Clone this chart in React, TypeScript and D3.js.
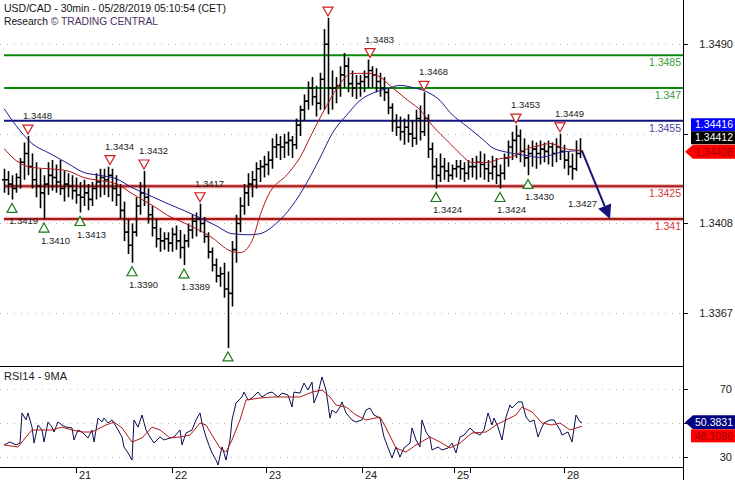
import React from 'react';
import * as d3 from 'd3';

// ---------- DATA ----------
// prices stored in pips above BASE (1.3300); one bar per 2 half-hour slots
const BASE = 1.33;
const highs = [
  133,132,130,131,138,145,148,140,136,133,
  130,136,137,135,137,132,131,130,129,127,
  128,126,127,131,133,133,134,133,130,126,
  118,110,108,120,127,132,124,116,110,106,
  104,104,106,107,105,103,108,112,113,117,
  111,104,97,92,88,90,86,100,112,120,
  126,131,132,136,137,139,141,147,149,148,
  149,150,148,156,162,167,173,175,171,177,
  197,202,178,175,180,186,184,178,176,176,
  178,183,180,179,177,175,170,163,158,157,
  156,158,155,160,162,168,158,145,138,140,
  138,136,135,137,137,136,137,138,139,141,
  140,137,139,138,135,140,146,150,153,151,
  147,144,146,145,146,145,146,145,147,149,
  144,141,140,146,147,
];
const lows = [
  122,121,119,122,124,128,130,124,120,115,
  110,121,123,122,121,118,120,119,117,113,
  116,114,116,119,120,121,120,118,116,110,
  100,94,90,102,112,116,108,102,97,95,
  96,95,95,96,92,89,97,101,102,104,
  99,92,86,81,79,74,51,70,90,104,
  112,116,120,124,127,129,130,133,138,137,
  138,139,138,142,148,155,160,162,157,160,
  160,158,160,163,166,170,168,166,165,166,
  168,170,170,168,166,164,158,150,148,146,
  144,145,143,144,146,148,138,128,124,127,
  128,127,128,129,128,127,128,129,128,129,
  128,127,128,126,124,128,134,137,138,136,
  134,130,134,133,135,136,135,134,136,137,
  133,130,128,132,138,
];
const closes = [
  128,126,124,129,136,140,134,128,125,122,
  126,130,129,127,124,126,125,123,121,120,
  122,119,124,127,129,128,130,124,121,114,
  104,98,104,116,122,120,112,106,101,100,
  101,99,103,100,97,100,105,109,110,108,
  102,95,89,84,85,78,76,96,108,116,
  122,126,128,133,134,135,137,143,144,143,
  145,146,144,153,160,164,170,166,163,174,
  190,170,170,171,176,180,172,170,172,173,
  175,178,176,173,170,168,161,155,152,150,
  152,149,147,156,150,156,142,134,130,134,
  132,130,133,134,133,131,134,134,136,135,
  133,131,134,130,131,138,143,146,148,141,
  138,140,142,140,142,141,143,140,143,141,
  137,134,133,140,141,
];

// moving averages: [slot, pips]
const maSlow: [number, number][] = [
  [0,160.6],[8,150.5],[14,144.6],[23,140],[32,135.4],[40,131.3],[48,130],[56,128.5],[64,124.4],
  [73,120.7],[82,117],[90,113.9],[98,110.6],[106,107],[114,103.3],[123,102.8],[128,103.3],
  [136,107.9],[144,116],[152,127.6],[158,138],[164,149],[172,158.3],[178,164.3],[184,167.5],
  [192,169.8],[198,171.2],[204,170.3],[212,168],[218,164.3],[223,158.8],[232,152],[240,146],
  [244,142.8],[252,140.5],[262,139],[268,138.2],[278,140.5],[289,141.4],
];
const maFast: [number, number][] = [
  [0,142.3],[6,136.8],[14,133.6],[23,133],[32,132],[40,129],[48,127.6],[56,126.2],[64,121.7],
  [70,118.4],[76,115.2],[82,111.6],[90,108.3],[98,104.7],[104,101.5],[113,95.5],[118,94.6],
  [124,100],[128,111.6],[132,120.7],[142,130.8],[148,138.2],[154,149.2],[162,163],[168,172],
  [174,176.7],[182,176.7],[188,175],[194,170.3],[202,164.3],[208,160],[214,153],[223,144.6],
  [228,140],[234,135.9],[242,135.9],[248,137.7],[253,138.2],[262,142.3],[268,143.7],[273,144.6],
  [280,142.3],[289,141.4],
];

// RSI14 and its 9MA: [slot, value]
const rsi: [number, number][] = [
  [0,37.1],[3,38.8],[6,37.1],[8,38.2],[9,55.9],[11,51.8],[12,55.9],[14,47.6],[15,38.2],[17,48.8],
  [19,45.9],[20,38.8],[22,50.6],[24,47.6],[25,44.7],[27,50.6],[29,48.8],[31,47.6],[34,47.1],[35,40],
  [37,45.9],[39,44.7],[42,41.2],[44,45.9],[45,38.8],[47,52.9],[49,50.6],[50,52.9],[52,50],[54,51.8],
  [55,50],[57,45.9],[59,41.8],[60,35.9],[62,32.4],[64,28.2],[65,51.8],[67,47.6],[69,54.7],[71,45.9],
  [73,41.8],[75,38.2],[78,41.8],[80,40],[83,41.2],[85,41.8],[88,45.9],[89,37.1],[91,44.1],[94,45.9],
  [96,51.8],[98,55.9],[99,50],[101,41.8],[103,35.3],[104,32.4],[106,28.2],[107,25.3],[109,35.9],
  [110,32.4],[111,28.2],[113,40],[114,51.8],[116,61.8],[119,65.3],[120,68.2],[122,63.5],[124,64.7],
  [127,68.2],[129,65.3],[132,67.6],[134,68.2],[137,65.3],[139,67.6],[142,66.5],[144,59.4],[145,68.2],
  [148,67.6],[150,73.5],[152,69.4],[154,74.1],[155,61.8],[157,67.6],[159,77.1],[161,69.4],[163,52.9],
  [164,57.6],[166,55.9],[168,59.4],[169,62.4],[171,55.9],[174,51.8],[176,50.6],[179,51.8],[181,57.6],
  [183,58.8],[185,54.7],[188,52.9],[190,41.8],[193,32.4],[194,29.4],[196,35.9],[198,30],[200,35.3],
  [203,38.2],[204,47.1],[206,40],[208,35.9],[209,51.8],[211,44.7],[213,41.2],[214,34.1],[217,35.9],
  [219,34.1],[222,35.3],[224,38.2],[226,32.4],[228,41.8],[230,42.9],[233,47.1],[235,44.7],[238,42.9],
  [240,45.9],[242,55.9],[244,48.8],[245,52.9],[247,47.6],[249,40],[251,53.5],[253,60.6],[254,58.8],
  [257,62.4],[259,62.4],[261,53.5],[263,50.6],[265,51.8],[267,41.8],[269,47.6],[270,50],[273,51.8],
  [275,51.8],[278,45.9],[279,42.9],[282,44.7],[284,38.8],[286,54.7],[288,50.6],[289,50.3831],
];
const rsiMa: [number, number][] = [
  [0,37.1],[7,35.9],[11,41.8],[14,45.9],[19,45.9],[24,45.9],[29,47.6],[34,45.9],[39,44.7],[44,44.7],
  [51,48.8],[55,50.6],[59,47.1],[64,38.8],[69,41.2],[74,47.6],[78,45.9],[83,41.2],[88,41.8],[93,42.9],
  [98,50],[101,48.8],[104,42.9],[108,35.3],[111,32.9],[114,40],[118,51.8],[121,63.5],[128,64.7],
  [134,65.3],[141,65.3],[148,65.3],[154,68.2],[159,69.4],[163,65.3],[166,60.6],[171,59.4],[176,54.7],
  [181,51.8],[188,53.5],[191,47.1],[196,35.3],[201,32.9],[206,37.1],[213,41.8],[218,38.8],[223,35.3],
  [228,38.2],[234,44.1],[241,44.7],[246,48.8],[251,51.8],[256,54.7],[259,59.4],[264,56.5],[269,50],
  [274,48.8],[278,50],[283,45.9],[289,48.1096],
];

// key levels
const levelValues = [1.3485, 1.347, 1.3455, 1.3425, 1.341];
const levelLabels = ['1.3485', '1.347', '1.3455', '1.3425', '1.341'];
const levelKinds = ['res', 'res', 'pivot', 'sup', 'sup'];

// swing markers: slot, price, label
const highMarks: [number, number, string][] = [
  [12, 1.3448, '1.3448'], [53, 1.3434, '1.3434'], [70, 1.3432, '1.3432'], [98, 1.3417, '1.3417'],
  [162, 1.3502, ''], [183, 1.3483, '1.3483'], [210, 1.3468, '1.3468'], [256, 1.3453, '1.3453'],
  [278, 1.3449, '1.3449'],
];
const lowMarks: [number, number, string][] = [
  [4, 1.3419, '1.3419'], [20, 1.3410, '1.3410'], [38, 1.3413, '1.3413'], [64, 1.3390, '1.3390'],
  [90, 1.3389, '1.3389'], [112, 1.3351, ''], [216, 1.3424, '1.3424'], [248, 1.3424, '1.3424'],
  [262, 1.3430, '1.3430'],
];

// forecast arrow: [slot, price]
const forecast: [number, number][] = [[289, 1.34412], [303, 1.3410]];
const targetLabel = '1.3427';

// axes (labels hidden under the value tags are left out)
const priceTicks = [1.3490, 1.3449, 1.3408, 1.3367];
const priceTickLabels = ['1.3490', '', '1.3408', '1.3367'];
const rsiTicks = [70, 50, 30];
const rsiTickLabels = ['70', '', '30'];
const dayTickSlots = [36, 84, 131, 179, 225, 233, 280];
const dayTickLabels = ['21', '22', '23', '24', '25', '', '28'];

// last-value tags
const tagBlue = '1.34416';
const tagBlack = '1.34412';
const tagRed = '1.34408';
const tagRedValue = 1.34408;
const rsiTagValue = 50.3831;
const rsiTag = '50.3831';
const rsiMaTag = '48.1096';

const FONT = '"Liberation Sans", Arial, sans-serif';

export default function App() {
  const W = 735, H = 480;
  const PR = 683;
  const MAIN_BOT = 366, RSI_BOT = 467;

  const x = d3.scaleLinear().domain([0, 289]).range([4, 582]);
  const y = d3.scaleLinear().domain([1.3490, 1.3367]).range([44.3, 313]);
  const yr = d3.scaleLinear().domain([70, 30]).range([389, 457]);
  const px = (v: number) => BASE + v / 10000;

  // bars
  let wickPath = '';
  let tickPath = '';
  highs.forEach((h, i) => {
    const xi = Math.round(x(i * 2));
    const o = i === 0 ? closes[0] : closes[i - 1];
    wickPath += `M${xi + 0.5},${y(px(h))}V${y(px(lows[i]))}`;
    tickPath += `M${xi - 2},${y(px(o))}H${xi + 1}`;
    tickPath += `M${xi},${y(px(closes[i]))}H${xi + 3}`;
  });

  const maLine = d3.line<[number, number]>().x(d => x(d[0])).y(d => y(px(d[1]))).curve(d3.curveMonotoneX);
  const rsiLine = d3.line<[number, number]>().x(d => x(d[0])).y(d => yr(d[1]));

  const levelColor: Record<string, string> = { res: '#0c8a0c', pivot: '#14147e', sup: '#a81818' };
  const levelText: Record<string, string> = { res: '#3a9a3a', pivot: '#4040a8', sup: '#d03a3a' };

  // arrow geometry
  const ax0 = x(forecast[0][0]), ay0 = y(forecast[0][1]);
  const ax1 = x(forecast[1][0]), ay1 = y(forecast[1][1]);
  const ang = Math.atan2(ay1 - ay0, ax1 - ax0);
  const hl = 14, hw = 7;
  const bx = ax1 - hl * Math.cos(ang), by = ay1 - hl * Math.sin(ang);
  const head = [
    [ax1, ay1],
    [bx + hw * Math.sin(ang), by - hw * Math.cos(ang)],
    [bx - hw * Math.sin(ang), by + hw * Math.cos(ang)],
  ].map(p => p.join(',')).join(' ');

  const redCy = y(tagRedValue);
  const rsiCy = yr(rsiTagValue);
  const TAG_FS = 10.5;

  return (
    <div style={{ position: 'absolute', left: 0, top: 0 }}>
      <svg width={W} height={H} style={{ display: 'block', background: '#fff', fontFamily: FONT }}>
        <defs>
          <clipPath id="mainClip"><rect x={0} y={0} width={PR} height={MAIN_BOT} /></clipPath>
          <clipPath id="rsiClip"><rect x={0} y={MAIN_BOT} width={PR} height={RSI_BOT - MAIN_BOT} /></clipPath>
        </defs>

        {/* grid main */}
        {priceTicks.map(t => (
          <line key={'g' + t} x1={0} x2={PR} y1={Math.round(y(t)) + 0.5} y2={Math.round(y(t)) + 0.5}
            stroke="#b8b8b8" strokeDasharray="1 6" />
        ))}
        {/* grid rsi */}
        {rsiTicks.map(t => (
          <line key={'r' + t} x1={0} x2={PR} y1={Math.round(yr(t)) + 0.5} y2={Math.round(yr(t)) + 0.5}
            stroke="#b8b8b8" strokeDasharray="1 6" />
        ))}

        <g clipPath="url(#mainClip)">
          {/* levels */}
          {levelValues.map((v, i) => {
            const k = levelKinds[i];
            const yy = y(v);
            return (
              <g key={'l' + i}>
                {k === 'sup' && <line x1={x(0)} x2={PR} y1={yy} y2={yy} stroke="#e07878" strokeWidth={4.5} opacity={0.5} />}
                <line x1={x(0)} x2={PR} y1={yy} y2={yy} stroke={levelColor[k]} strokeWidth={2} />
                <text x={PR - 2} y={yy + 11} textAnchor="end" fontSize={10.5} fill={levelText[k]}>{levelLabels[i]}</text>
              </g>
            );
          })}

          {/* bars */}
          <path d={wickPath} stroke="#000" strokeWidth={1.6} fill="none" />
          <path d={tickPath} stroke="#000" strokeWidth={1.6} fill="none" />

          {/* moving averages */}
          <path d={maLine(maSlow) || ''} fill="none" stroke="#1e1e90" strokeWidth={1} />
          <path d={maLine(maFast) || ''} fill="none" stroke="#b01818" strokeWidth={1} />

          {/* markers */}
          {highMarks.map(([s, v, lab], i) => {
            const cx = x(s), b = y(v) - 2;
            return (
              <g key={'h' + i}>
                <polygon points={`${cx - 5},${b - 9} ${cx + 5},${b - 9} ${cx},${b}`} fill="#fff" stroke="#cc2020" strokeWidth={1.2} />
                {lab && <text x={cx - 5} y={b - 15} fontSize={9.5} fill="#222">{lab}</text>}
              </g>
            );
          })}
          {lowMarks.map(([s, v, lab], i) => {
            const cx = x(s), t = y(v) + 4;
            return (
              <g key={'w' + i}>
                <polygon points={`${cx - 5},${t + 9} ${cx + 5},${t + 9} ${cx},${t}`} fill="#fff" stroke="#1a7a1a" strokeWidth={1.2} />
                {lab && <text x={cx - 3} y={t + 21} fontSize={9.5} fill="#222">{lab}</text>}
              </g>
            );
          })}

          {/* forecast arrow */}
          <line x1={ax0} y1={ay0} x2={bx} y2={by} stroke="#14147a" strokeWidth={2} />
          <polygon points={head} fill="#14147a" />
          <text x={ax1 - 13} y={ay1 - 12} textAnchor="end" fontSize={9.5} fill="#222">{targetLabel}</text>
        </g>

        {/* RSI */}
        <g clipPath="url(#rsiClip)">
          <path d={rsiLine(rsi) || ''} fill="none" stroke="#0c0c50" strokeWidth={1} />
          <path d={rsiLine(rsiMa) || ''} fill="none" stroke="#b01818" strokeWidth={1} />
        </g>
        <text x={4} y={380} fontSize={11} fill="#222">RSI14 - 9MA</text>

        {/* frame */}
        <line x1={PR + 0.5} x2={PR + 0.5} y1={0} y2={H} stroke="#000" />
        <line x1={0} x2={PR} y1={MAIN_BOT + 0.5} y2={MAIN_BOT + 0.5} stroke="#000" />
        <line x1={0} x2={PR} y1={RSI_BOT + 0.5} y2={RSI_BOT + 0.5} stroke="#000" />

        {/* price axis */}
        {priceTicks.map((t, i) => (
          <g key={'pt' + t}>
            <line x1={PR} x2={PR + 5} y1={Math.round(y(t)) + 0.5} y2={Math.round(y(t)) + 0.5} stroke="#000" />
            {priceTickLabels[i] && <text x={733} y={y(t) + 4} textAnchor="end" fontSize={11} fill="#222">{priceTickLabels[i]}</text>}
          </g>
        ))}
        {rsiTicks.map((t, i) => (
          <g key={'rt' + t}>
            <line x1={PR} x2={PR + 5} y1={Math.round(yr(t)) + 0.5} y2={Math.round(yr(t)) + 0.5} stroke="#000" />
            {rsiTickLabels[i] && <text x={732} y={yr(t) + 4} textAnchor="end" fontSize={11} fill="#222">{rsiTickLabels[i]}</text>}
          </g>
        ))}

        {/* time axis */}
        {dayTickSlots.map((s, i) => (
          <g key={'d' + i}>
            <line x1={Math.round(x(s)) + 0.5} x2={Math.round(x(s)) + 0.5} y1={RSI_BOT} y2={RSI_BOT + 6} stroke="#000" />
            {dayTickLabels[i] && <text x={x(s) + 3} y={479} fontSize={11} fill="#222">{dayTickLabels[i]}</text>}
          </g>
        ))}

        {/* value tags */}
        <rect x={691} y={redCy - 33.5} width={44} height={13} fill="#0000ff" />
        <text x={733} y={redCy - 23.5} textAnchor="end" fontSize={TAG_FS} fill="#fff">{tagBlue}</text>
        <rect x={691} y={redCy - 20.5} width={44} height={13} fill="#000" />
        <text x={733} y={redCy - 10.5} textAnchor="end" fontSize={TAG_FS} fill="#fff">{tagBlack}</text>
        <polygon points={`685,${redCy} 693,${redCy - 7} 735,${redCy - 7} 735,${redCy + 7} 693,${redCy + 7}`} fill="#ff0000" />
        <text x={733} y={redCy + 4} textAnchor="end" fontSize={TAG_FS} fill="#a00000">{tagRed}</text>

        <polygon points={`685,${rsiCy} 693,${rsiCy - 7} 735,${rsiCy - 7} 735,${rsiCy + 7} 693,${rsiCy + 7}`} fill="#000080" />
        <text x={733} y={rsiCy + 4} textAnchor="end" fontSize={TAG_FS} fill="#fff">{rsiTag}</text>
        <rect x={691} y={rsiCy + 7} width={44} height={13} fill="#ff0000" />
        <text x={733} y={rsiCy + 17.5} textAnchor="end" fontSize={TAG_FS} fill="#a00000">{rsiMaTag}</text>

        {/* title */}
        <text x={4} y={12} fontSize={11} fill="#111" textLength={222} lengthAdjust="spacingAndGlyphs">USD/CAD - 30min - 05/28/2019 05:10:54 (CET)</text>
        <text x={4} y={25} fontSize={11} fill="#111" textLength={154} lengthAdjust="spacingAndGlyphs">
          Research <tspan fill="#4a2f60">© TRADING CENTRAL</tspan>
        </text>
      </svg>
    </div>
  );
}
